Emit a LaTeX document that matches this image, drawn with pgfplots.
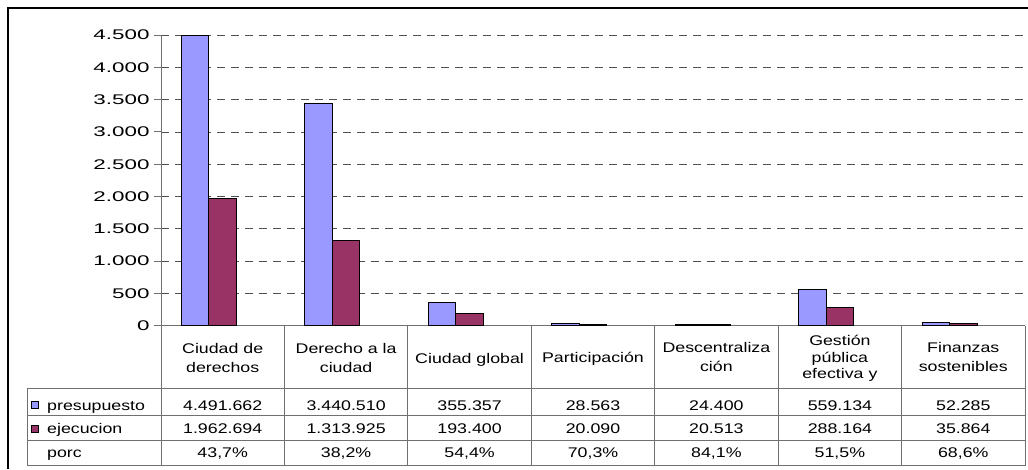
\documentclass[border=0pt]{standalone}
\usepackage{pgfplots}
\pgfplotsset{compat=1.18}
\usepackage{fontspec}
\setmainfont{Liberation Sans}
\newfontfamily\tfont[FakeStretch=1.27]{Liberation Sans}
\newfontfamily\yfont[FakeStretch=1.6]{Liberation Sans}
\definecolor{presu}{HTML}{9999FF}
\definecolor{ejec}{HTML}{993366}
\definecolor{gridc}{HTML}{505050}
\definecolor{linec}{HTML}{707070}

\pgfplotstableread{
x presupuesto ejecucion
1 4491.662 1962.694
2 3440.510 1313.925
3 355.357 193.400
4 28.563 20.090
5 24.400 20.513
6 559.134 288.164
7 52.285 35.864
}\datatable

\begin{document}
\begin{tikzpicture}
\useasboundingbox (0pt,0pt) rectangle (1028pt,-469pt);
\begin{axis}[
  at={(161pt,-325.7pt)}, anchor=south west,
  scale only axis, width=864pt, height=290.7pt,
  xmin=0.5, xmax=7.5, ymin=0, ymax=4500,
  axis x line*=bottom, axis y line*=left,
  axis line style={linec, line width=1pt, -},
  xtick=\empty,
  ytick={0,500,...,4500},
  ymajorgrids,
  grid style={gridc, dash pattern=on 8pt off 6pt, line width=0.8pt},
  tick align=outside, major tick length=7pt,
  tick style={linec, line width=1pt},
  yticklabel style={font=\fontsize{14}{16}\selectfont\yfont, xshift=-1pt},
  /pgf/number format/.cd, 1000 sep={.}, assume math mode=true,
  /pgfplots/.cd,
  ybar=0pt, bar width=27.5pt,
  clip=false,
]
\addplot[fill=presu, draw=black, line width=1pt, bar shift=-27.5pt] table[x=x, y=presupuesto] {\datatable};
\addplot[fill=ejec, draw=black, line width=1pt, bar shift=0pt] table[x=x, y=ejecucion] {\datatable};
\end{axis}

\begin{scope}[x=1pt, y=-1pt]
  % outer frame
  \draw[black, line width=2pt] (8,469) -- (8,8) -- (1028,8);
  % table lines
  \begin{scope}[linec, line width=1pt]
    \draw (27,388.5) -- (1025,388.5);
    \draw (27,415) -- (1025,415);
    \draw (27,440) -- (1025,440);
    \draw (27,465.5) -- (1025,465.5);
    \draw (27,388.5) -- (27,465.5);
    \foreach \X in {161,284.4,407.9,531.3,654.7,778.1,901.6,1025}
      \draw (\X,325.7) -- (\X,465.5);
  \end{scope}
  \tikzset{t/.style={anchor=base, inner sep=0pt, font=\fontsize{14}{16}\selectfont\tfont}}
  % header
  \node[t] at (222.7,353) {Ciudad de};
  \node[t] at (222.7,372) {derechos};
  \node[t] at (346.1,353) {Derecho a la};
  \node[t] at (346.1,372) {ciudad};
  \node[t] at (469.6,363.5) {Ciudad global};
  \node[t] at (593.0,362.5) {Participación};
  \node[t] at (716.4,352) {Descentraliza};
  \node[t] at (716.4,371) {ción};
  \node[t] at (839.9,345) {Gestión};
  \node[t] at (839.9,362) {pública};
  \node[t] at (839.9,378) {efectiva y};
  \node[t] at (963.3,352) {Finanzas};
  \node[t] at (963.3,371) {sostenibles};
  % row labels
  \draw[black, line width=0.6pt, fill=presu] (31.5,401) rectangle (38.5,408);
  \draw[black, line width=0.6pt, fill=ejec] (31.5,425.5) rectangle (38.5,432.5);
  \node[t, anchor=base west] at (47,410) {presupuesto};
  \node[t, anchor=base west] at (47,433.5) {ejecucion};
  \node[t, anchor=base west] at (47,457.5) {porc};
  % values
  \foreach \c/\a/\b/\p in {222.7/4.491.662/1.962.694/{43,7\%},
                           346.1/3.440.510/1.313.925/{38,2\%},
                           469.6/355.357/193.400/{54,4\%},
                           593.0/28.563/20.090/{70,3\%},
                           716.4/24.400/20.513/{84,1\%},
                           839.9/559.134/288.164/{51,5\%},
                           963.3/52.285/35.864/{68,6\%}} {
    \node[t] at (\c,410) {\a};
    \node[t] at (\c,433.5) {\b};
    \node[t] at (\c,457.5) {\p};
  }
\end{scope}
\end{tikzpicture}
\end{document}
